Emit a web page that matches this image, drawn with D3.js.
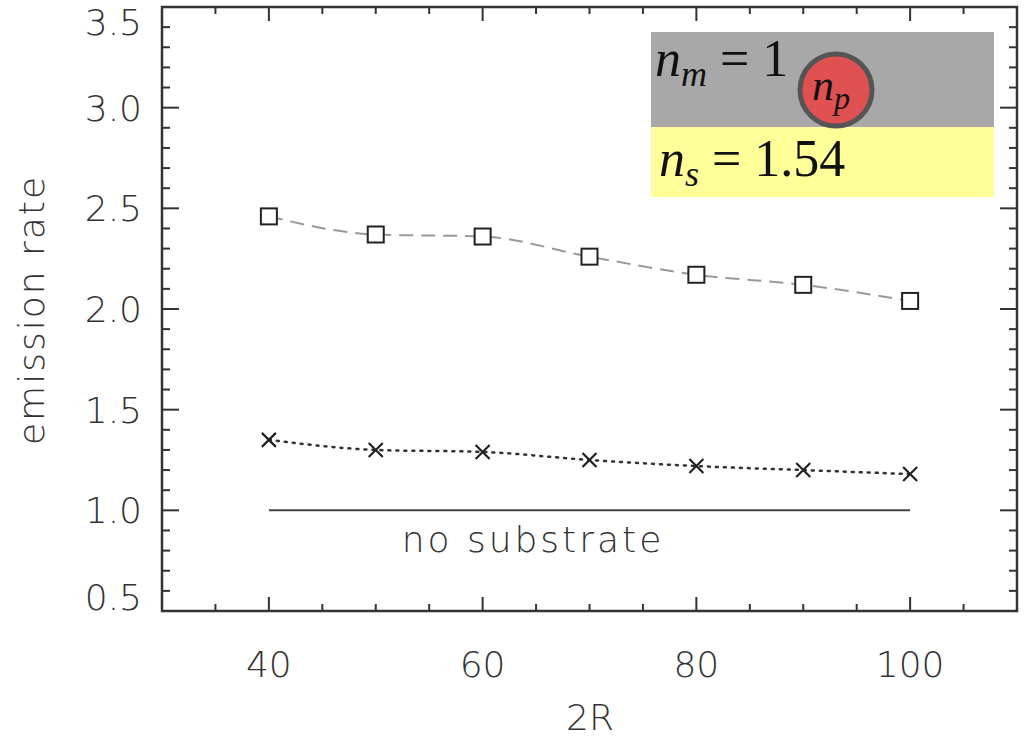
<!DOCTYPE html>
<html><head><meta charset="utf-8">
<script src="https://cdn.jsdelivr.net/npm/d3@7"></script>
<style>body{margin:0;background:#fff}</style>
</head><body>
<script>
const sizes = [40, 50, 60, 70, 80, 90, 100];
const withSubstrate = [2.46, 2.37, 2.36, 2.26, 2.17, 2.12, 2.04];
const smallSub = [1.35, 1.30, 1.29, 1.25, 1.22, 1.20, 1.18];
const noSubstrate = [1.0, 1.0];
const xTicks = [40, 60, 80, 100];
const yTicks = [0.5, 1.0, 1.5, 2.0, 2.5, 3.0, 3.5];

const W = 1024, H = 738;
const L = 162, R = 1017, T = 7, B = 611;
const ink = "#333";
const font = "DejaVu Sans, Liberation Sans, sans-serif";

const svg = d3.select("body").append("svg").attr("width", W).attr("height", H);
const x = d3.scaleLinear().domain([30, 110]).range([L, R]);
const y = d3.scaleLinear().domain([0.5, 3.5]).range([B, T]);

// frame
svg.append("rect").attr("x", L).attr("y", T).attr("width", R - L).attr("height", B - T)
  .attr("fill", "none").attr("stroke", ink).attr("stroke-width", 2.5);

// ticks
const xMinor = d3.range(35, 110, 5);
const yMinor = d3.range(0.6, 3.5, 0.1);
xMinor.forEach(v => {
  const major = v % 20 === 0;
  const len = major ? 14 : 7;
  svg.append("line").attr("x1", x(v)).attr("x2", x(v)).attr("y1", B).attr("y2", B - len).attr("stroke", ink).attr("stroke-width", 2);
  svg.append("line").attr("x1", x(v)).attr("x2", x(v)).attr("y1", T).attr("y2", T + len).attr("stroke", ink).attr("stroke-width", 2);
});
yMinor.forEach(v => {
  const major = Math.abs(v * 2 - Math.round(v * 2)) < 1e-6;
  const len = major ? 17 : 8;
  svg.append("line").attr("x1", L).attr("x2", L + len).attr("y1", y(v)).attr("y2", y(v)).attr("stroke", ink).attr("stroke-width", 2);
  svg.append("line").attr("x1", R).attr("x2", R - len).attr("y1", y(v)).attr("y2", y(v)).attr("stroke", ink).attr("stroke-width", 2);
});

// tick labels
svg.append("g").selectAll("text").data(xTicks).enter().append("text")
  .attr("x", d => x(d)).attr("y", 677).attr("text-anchor", "middle")
  .attr("font-family", font).attr("font-weight", 300).attr("font-size", 36).attr("fill", ink).text(d => d);
svg.append("g").selectAll("text").data(yTicks).enter().append("text")
  .attr("x", 142).attr("y", d => y(d) + (d === 3.5 ? 15 : d === 0.5 ? -14 : 0))
  .attr("dy", "0.36em").attr("text-anchor", "end")
  .attr("font-family", font).attr("font-weight", 300).attr("font-size", 36).attr("fill", ink).text(d => d.toFixed(1));

svg.append("text").attr("x", 590).attr("y", 730).attr("text-anchor", "middle")
  .attr("font-family", font).attr("font-weight", 300).attr("font-size", 36).attr("fill", ink).text("2R");
svg.append("text").attr("transform", "translate(44,310) rotate(-90)").attr("text-anchor", "middle")
  .attr("font-family", font).attr("font-weight", 300).attr("font-size", 36).attr("letter-spacing", 2).attr("fill", ink).text("emission rate");

// no substrate line
svg.append("line").attr("x1", x(40)).attr("x2", x(100)).attr("y1", y(noSubstrate[0])).attr("y2", y(noSubstrate[1]))
  .attr("stroke", "#444").attr("stroke-width", 2);
svg.append("text").attr("x", 533).attr("y", 552).attr("text-anchor", "middle")
  .attr("font-family", font).attr("font-weight", 300).attr("font-size", 36).attr("fill", ink).attr("letter-spacing", 3).text("no substrate");

const line = d3.line().x((d, i) => x(sizes[i])).y(d => y(d)).curve(d3.curveMonotoneX);
svg.append("path").attr("d", line(withSubstrate)).attr("fill", "none")
  .attr("stroke", "#999").attr("stroke-width", 2).attr("stroke-dasharray", "14,8");
svg.append("path").attr("d", line(smallSub)).attr("fill", "none")
  .attr("stroke", "#333").attr("stroke-width", 2.5).attr("stroke-dasharray", "2,6").attr("stroke-linecap", "round");

svg.append("g").selectAll("rect").data(withSubstrate).enter().append("rect")
  .attr("x", (d, i) => x(sizes[i]) - 8).attr("y", d => y(d) - 8).attr("width", 16).attr("height", 16)
  .attr("fill", "#fff").attr("stroke", "#222").attr("stroke-width", 2);
const cross = svg.append("g").selectAll("g").data(smallSub).enter().append("g")
  .attr("transform", (d, i) => `translate(${x(sizes[i])},${y(d)})`);
cross.append("path").attr("d", "M-7,-7L7,7M-7,7L7,-7").attr("stroke", "#222").attr("stroke-width", 2.2);

// inset
const serif = "Liberation Serif, DejaVu Serif, serif";
svg.append("rect").attr("x", 651).attr("y", 32).attr("width", 343).attr("height", 95).attr("fill", "#a8a8a8");
svg.append("rect").attr("x", 651).attr("y", 127).attr("width", 343).attr("height", 70).attr("fill", "#ffff99");
svg.append("circle").attr("cx", 836).attr("cy", 90).attr("r", 36).attr("fill", "#e05050").attr("stroke", "#555").attr("stroke-width", 5);
const t1 = svg.append("text").attr("x", 655).attr("y", 76).attr("font-family", serif).attr("font-size", 52).attr("fill", "#111");
t1.append("tspan").attr("font-style", "italic").text("n");
t1.append("tspan").attr("font-style", "italic").attr("font-size", 36).attr("dy", 10).text("m");
t1.append("tspan").attr("dy", -10).text(" = 1");
const t2 = svg.append("text").attr("x", 812).attr("y", 100).attr("font-family", serif).attr("font-size", 44).attr("fill", "#111");
t2.append("tspan").attr("font-style", "italic").text("n");
t2.append("tspan").attr("font-style", "italic").attr("font-size", 32).attr("dy", 9).text("p");
const t3 = svg.append("text").attr("x", 659).attr("y", 176).attr("font-family", serif).attr("font-size", 52).attr("fill", "#111");
t3.append("tspan").attr("font-style", "italic").text("n");
t3.append("tspan").attr("font-style", "italic").attr("font-size", 36).attr("dy", 10).text("s");
t3.append("tspan").attr("dy", -10).text(" = 1.54");
</script>
</body></html>
